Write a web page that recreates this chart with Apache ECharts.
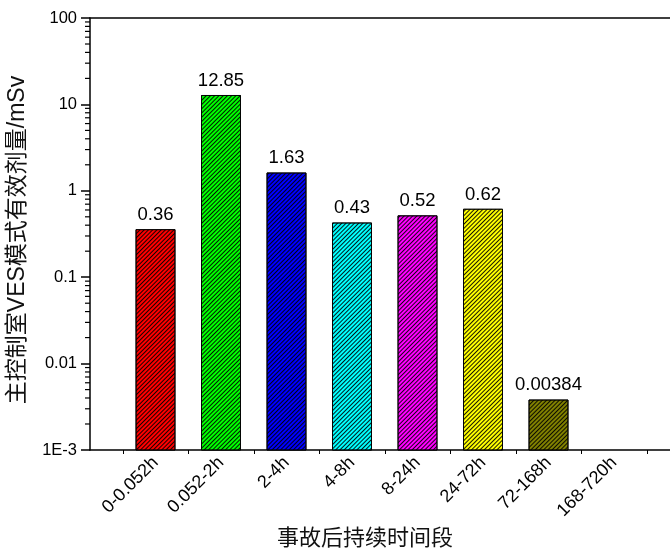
<!DOCTYPE html>
<html>
<head>
<meta charset="utf-8">
<script src="https://cdn.jsdelivr.net/npm/echarts@6/dist/echarts.min.js"></script>
<style>html,body{margin:0;padding:0;background:#fff;}#main{width:670px;height:550px;}</style>
</head>
<body>
<div id="main"></div>
<script>
var categories = ['0-0.052h', '0.052-2h', '2-4h', '4-8h', '8-24h', '24-72h', '72-168h', '168-720h'];
var doseValues = [0.36, 12.85, 1.63, 0.43, 0.52, 0.62, 0.00384, null];
var barColors = ['#FF0000', '#00FF00', '#0000FF', '#00FFFF', '#FF00FF', '#FFFF00', '#808000', '#808080'];
var yTickValues = [0.001, 0.01, 0.1, 1, 10, 100];
var yTickLabels = ['1E-3', '0.01', '0.1', '1', '10', '100'];
var xTitle = '事故后持续时间段';
var yTitle = '主控制室VES模式有效剂量/mSv';

// minor tick values of the log axis (2..9 within each decade)
var minorTickValues = [];
for (var d = 0; d < yTickValues.length - 1; d++) {
  for (var m = 2; m <= 9; m++) minorTickValues.push(m * yTickValues[d]);
}

// tiny invisible stack base so bars rise from the bottom of the log axis
var BASE = 1e-12;

var FONT = 'Liberation Sans, Arial, Noto Sans CJK SC, sans-serif';
var CAT_W = 65.5;
var AXIS_LEFT = 90;
var OFFSET = CAT_W / 2;

var chart = echarts.init(document.getElementById('main'), null, {renderer: 'canvas'});

var barData = doseValues.map(function (v, i) {
  return {
    value: v == null ? '-' : v,
    itemStyle: {
      color: barColors[i],
      borderColor: 'rgba(0,0,0,0.85)',
      borderWidth: 1,
      decal: {
        symbol: 'rect',
        symbolSize: 1,
        dashArrayX: [1, 0],
        dashArrayY: [1, 2],
        rotation: -Math.PI / 4,
        color: 'rgba(0,0,0,0.9)'
      }
    }
  };
});

chart.setOption({
  animation: false,
  backgroundColor: '#fff',
  grid: [
    {left: AXIS_LEFT + OFFSET, width: CAT_W * 8, top: 18, height: 432},
    {left: AXIS_LEFT, width: CAT_W * 9, top: 18, height: 432}
  ],
  xAxis: [
    {
      type: 'category', gridIndex: 0, data: categories,
      axisLine: {show: false},
      axisTick: {show: true, length: 4, interval: 0, lineStyle: {color: '#000', width: 1}},
      axisLabel: {rotate: 45, interval: 0, fontSize: 18, color: '#000', fontFamily: FONT, margin: 10}
    },
    {
      type: 'value', gridIndex: 1, min: 0, max: 1, position: 'bottom',
      axisLine: {show: true, lineStyle: {color: '#000', width: 1.5}},
      axisTick: {show: false}, axisLabel: {show: false}, splitLine: {show: false}
    },
    {
      type: 'value', gridIndex: 1, min: 0, max: 1, position: 'top',
      axisLine: {show: true, lineStyle: {color: '#000', width: 1.5}},
      axisTick: {show: false}, axisLabel: {show: false}, splitLine: {show: false}
    }
  ],
  yAxis: [
    {
      type: 'log', gridIndex: 0, logBase: 10, min: 0.001, max: 100, offset: OFFSET,
      axisLine: {show: true, lineStyle: {color: '#000', width: 1.5}},
      axisTick: {show: true, length: 9, lineStyle: {color: '#000', width: 1.5}},
      splitLine: {show: false},
      axisLabel: {
        fontSize: 16.5, color: '#000', fontFamily: FONT, margin: 13,
        formatter: function (v) {
          for (var i = 0; i < yTickValues.length; i++) {
            if (Math.abs(Math.log10(v) - Math.log10(yTickValues[i])) < 1e-6) return yTickLabels[i];
          }
          return '';
        }
      }
    },
    {type: 'value', gridIndex: 1, show: false, min: 0, max: 1}
  ],
  series: [
    {
      type: 'bar', xAxisIndex: 0, yAxisIndex: 0, barWidth: 40, stack: 'dose', silent: true,
      data: doseValues.map(function () { return BASE; }),
      itemStyle: {color: 'rgba(0,0,0,0)'},
      label: {show: false}
    },
    {
      type: 'bar', xAxisIndex: 0, yAxisIndex: 0, barWidth: 40, stack: 'dose',
      data: barData,
      label: {show: true, position: 'top', distance: 5, fontSize: 18.5, color: '#000', fontFamily: FONT}
    },
    {
      type: 'custom', xAxisIndex: 0, yAxisIndex: 0, silent: true, clip: false,
      data: minorTickValues.map(function (v) { return [0, v]; }),
      renderItem: function (params, api) {
        var y = api.coord([api.value(0), api.value(1)])[1];
        var x = params.coordSys.x - OFFSET;
        return {
          type: 'line',
          shape: {x1: x - 5, y1: y, x2: x, y2: y},
          style: {stroke: '#000', lineWidth: 1.2}
        };
      }
    }
  ],
  graphic: [
    {
      type: 'text', x: 365, y: 526,
      style: {text: xTitle, font: '22px Noto Sans CJK SC, sans-serif', fill: '#111', textAlign: 'center', textVerticalAlign: 'top'}
    },
    {
      type: 'text', x: 18, y: 240, rotation: Math.PI / 2,
      style: {text: yTitle, font: '23px Liberation Sans, Noto Sans CJK SC, sans-serif', fill: '#111', textAlign: 'center', textVerticalAlign: 'middle'}
    }
  ]
});
</script>
</body>
</html>
